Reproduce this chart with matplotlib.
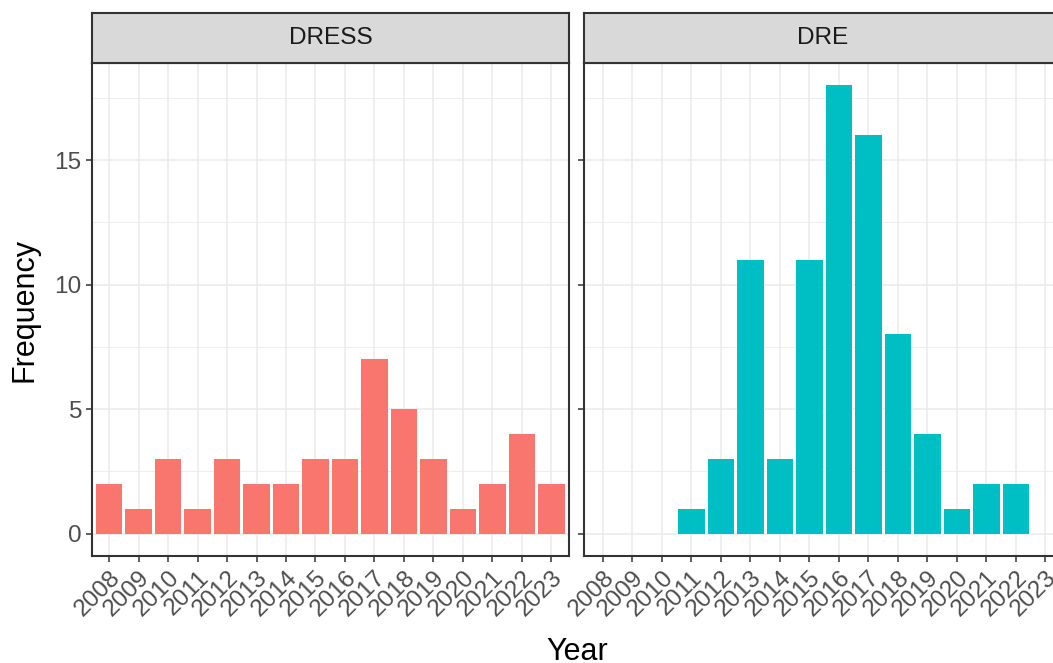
import numpy as np
import matplotlib.pyplot as plt

plt.rcParams['font.family'] = ['Liberation Sans', 'DejaVu Sans']

years = list(range(2008, 2024))
dress_years = [2008, 2009, 2010, 2011, 2012, 2013, 2014, 2015, 2016, 2017, 2018, 2019, 2020, 2021, 2022, 2023]
dress_freq = [2, 1, 3, 1, 3, 2, 2, 3, 3, 7, 5, 3, 1, 2, 4, 2]
dre_years = [2011, 2012, 2013, 2014, 2015, 2016, 2017, 2018, 2019, 2020, 2021, 2022]
dre_freq = [1, 3, 11, 3, 11, 18, 16, 8, 4, 1, 2, 2]

W, H = 1053, 663
fig = plt.figure(figsize=(W / 100, H / 100), dpi=100)

def px_axes(x0, y0, x1, y1):
 return fig.add_axes([x0 / W, 1 - y1 / H, (x1 - x0) / W, (y1 - y0) / H])

dark = '#333333'
grid = '#EBEBEB'
tick_col = '#4D4D4D'
fs = 17.6

panels = [
 ('DRESS', dress_years, dress_freq, '#F8766D', 92, (2007.42, 2023.6)),
 ('DRE', dre_years, dre_freq, '#00BFC4', 584, (2007.36, 2023.53)),
]

for i, (name, xs, ys, col, x0, xlim) in enumerate(panels):
 ax = px_axes(x0, 63, x0 + 477, 556)
 ax.set_xlim(*xlim)
 ax.set_ylim(-0.9, 18.9)
 ax.set_axisbelow(True)
 for y in [2.5, 7.5, 12.5, 17.5]:
  ax.axhline(y, color=grid, lw=0.6, zorder=0)
 for y in [0, 5, 10, 15]:
  ax.axhline(y, color=grid, lw=1.1, zorder=0)
 for x in years:
  ax.axvline(x, color=grid, lw=1.1, zorder=0)
 ax.bar(xs, ys, width=0.9, color=col, zorder=2)
 for s in ax.spines.values():
  s.set_color(dark)
  s.set_linewidth(1.5)
 ax.set_xticks(years)
 ax.set_xticklabels([str(y) for y in years], rotation=45, rotation_mode='anchor',
  ha='right', va='top', fontsize=fs, color=tick_col)
 ax.tick_params(axis='both', color=dark, width=1.1, length=4.5, pad=3)
 ax.set_yticks([0, 5, 10, 15])
 if i == 0:
  ax.set_yticklabels(['0', '5', '10', '15'], fontsize=fs, color=tick_col)
 else:
  ax.set_yticklabels([])

 st = px_axes(x0, 13, x0 + 477, 63)
 st.set_facecolor('#D9D9D9')
 st.set_xticks([])
 st.set_yticks([])
 for s in st.spines.values():
  s.set_color(dark)
  s.set_linewidth(1.5)
 st.text(0.5, 0.5, name, ha='center', va='center', fontsize=fs, color='#1A1A1A',
  transform=st.transAxes)

fig.text(577 / W, 1 - 652 / H, 'Year', ha='center', va='center', fontsize=22)
fig.text(25 / W, 1 - 310 / H, 'Frequency', ha='center', va='center', fontsize=22, rotation=90)

fig.savefig('out.png', dpi=100)
